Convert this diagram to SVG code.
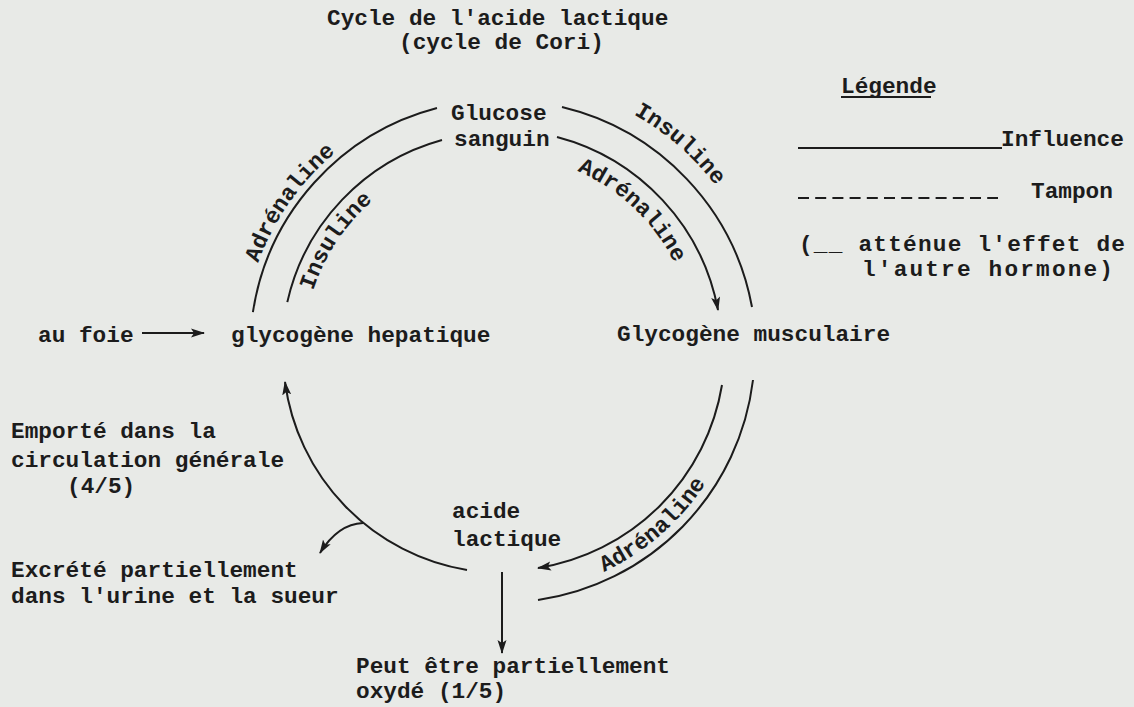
<svg xmlns="http://www.w3.org/2000/svg" width="1134" height="707" viewBox="0 0 1134 707">
<style>
text{font-family:"Liberation Mono","DejaVu Sans Mono",monospace;font-size:22.75px;font-weight:bold;fill:#1c1c1c}
.ln{fill:none;stroke:#1c1c1c;stroke-width:2}
.arr{marker-end:url(#ah)}
</style>
<defs>
<marker id="ah" viewBox="0 0 14 10" refX="13" refY="5" markerWidth="14" markerHeight="10" markerUnits="userSpaceOnUse" orient="auto">
<path d="M0,0.5 L14,5 L0,9.5 L3,5 z" fill="#1c1c1c"/>
</marker>
<path id="pULA" d="M244.0,327.6 A257,257 0 0 1 391.4,117.1"/>
<path id="pULI" d="M304.4,337.7 A196,196 0 0 1 412.9,174.4"/>
<path id="pURI" d="M552.4,84.1 A271,271 0 0 1 756.5,262.4"/>
<path id="pURA" d="M545.2,160.3 A195,195 0 0 1 686.9,294.3"/>
<path id="pLRA" d="M547.2,590.4 A245,245 0 0 0 731.8,429.4"/>
</defs>
<rect width="1134" height="707" fill="#e8eae7"/>

<g id="title">
<text x="327" y="25">Cycle de l'acide lactique</text>
<text x="399" y="49">(cycle de Cori)</text>
</g>

<g id="legend">
<text x="841" y="93">Légende</text>
<line class="ln" x1="841" y1="97" x2="931" y2="97"/>
<line class="ln" x1="798" y1="148" x2="1002" y2="148"/>
<text x="1001" y="146">Influence</text>
<line class="ln" x1="798" y1="198" x2="998" y2="198" stroke-dasharray="11 6.2"/>
<text x="1031" y="198">Tampon</text>
<text x="799" y="251" textLength="326" lengthAdjust="spacing">(__ atténue l'effet de</text>
<text x="862" y="276" textLength="251" lengthAdjust="spacing">l'autre hormone)</text>
</g>

<g id="glucose-sanguin">
<text x="451" y="120">Glucose</text>
<text x="454" y="146">sanguin</text>
</g>
<g id="au-foie"><text x="38" y="342">au foie</text></g>
<g id="glycogene-hepatique"><text x="231" y="342">glycogène hepatique</text></g>
<g id="glycogene-musculaire"><text x="617" y="341">Glycogène musculaire</text></g>
<g id="emporte">
<text x="11" y="438">Emporté dans la</text>
<text x="11" y="467">circulation générale</text>
<text x="67" y="493">(4/5)</text>
</g>
<g id="acide-lactique">
<text x="452" y="518">acide</text>
<text x="452" y="546">lactique</text>
</g>
<g id="excrete">
<text x="11" y="577">Excrété partiellement</text>
<text x="11" y="603">dans l'urine et la sueur</text>
</g>
<g id="oxyde">
<text x="356" y="673">Peut être partiellement</text>
<text x="356" y="698">oxydé (1/5)</text>
</g>

<g id="connectors">
<path class="ln" d="M437,108 A250,250 0 0 0 252.9,312.2"/>
<path class="ln" d="M442,140 A218,218 0 0 0 287.3,302.1"/>
<path class="ln" d="M562,107 A253,253 0 0 1 752,307"/>
<path class="ln arr" d="M557,137 A221,221 0 0 1 718,310"/>
<path class="ln arr" d="M722,385 A222,222 0 0 1 538,568"/>
<path class="ln" d="M753,380 A253,253 0 0 1 538,600"/>
<path class="ln arr" d="M467,570 A220,220 0 0 1 285,382"/>
<path class="ln arr" d="M363,523 Q338,524 320,553"/>
<path class="ln arr" d="M502,572 L502,653"/>
<path class="ln arr" d="M142,333 L204,333"/>
</g>

<g id="edge-labels">
<text><textPath href="#pULA" startOffset="50%" text-anchor="middle">Adrénaline</textPath></text>
<text><textPath href="#pULI" startOffset="50%" text-anchor="middle">Insuline</textPath></text>
<text><textPath href="#pURI" startOffset="50%" text-anchor="middle">Insuline</textPath></text>
<text><textPath href="#pURA" startOffset="50%" text-anchor="middle">Adrénaline</textPath></text>
<text><textPath href="#pLRA" startOffset="50%" text-anchor="middle">Adrénaline</textPath></text>
</g>
</svg>
